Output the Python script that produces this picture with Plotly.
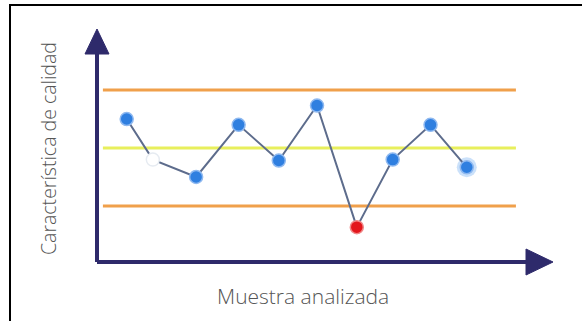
import plotly.graph_objects as go

# ---- data ----
sample_pos = [1.0, 1.67, 2.78, 3.87, 4.9, 5.88, 6.9, 7.82, 8.79, 9.72]
quality = [11.5, 9.4, 8.5, 11.2, 9.35, 12.2, 5.9, 9.4, 11.2, 9.0]
limit_names = ["UCL", "CL", "LCL"]
limit_values = [13.0, 10.0, 7.0]
x_title = "Muestra analizada"
y_title = "Característica de calidad"

# ---- layout geometry (pixels) ----
W, H = 582, 321
L, R, T, B = 97, 29, 28, 59
PW, PH = W - L - R, H - T - B


def fx(px):
    return (px - L) / PW


def fy(py):
    return (H - B - py) / PH


navy = "#2e2a6b"
fig = go.Figure()

# marker styles
colors = []
lines_c = []
for i, v in enumerate(quality):
    if v < limit_values[2]:
        colors.append("#e3161c")
        lines_c.append("#f08a8a")
    elif i == 1:
        colors.append("#ffffff")
        lines_c.append("#e6ebf1")
    else:
        colors.append("#2f7fe0")
        lines_c.append("#8fb9f0")

# control limit lines
limit_colors = ["#f0a04b", "#e8ef5c", "#f0a04b"]
for name, val, c in zip(limit_names, limit_values, limit_colors):
    fig.add_trace(go.Scatter(x=[0.39, 10.98], y=[val, val], mode="lines",
                             line=dict(color=c, width=3), hoverinfo="skip",
                             showlegend=False, name=name))

# halo on last point
fig.add_trace(go.Scatter(x=sample_pos[-1:], y=quality[-1:], mode="markers",
                         marker=dict(size=20, color="rgba(160,200,245,0.55)",
                                     line=dict(width=0)),
                         showlegend=False, hoverinfo="skip"))

fig.add_trace(go.Scatter(x=sample_pos, y=quality, mode="lines+markers",
                         line=dict(color="#5d6c8c", width=2),
                         marker=dict(size=13, color=colors,
                                     line=dict(color=lines_c, width=1.5)),
                         showlegend=False))

shapes = []
# axes lines
shapes.append(dict(type="line", xref="paper", yref="paper",
                   x0=fx(97), y0=fy(262), x1=fx(532), y1=fy(262),
                   line=dict(color=navy, width=4)))
shapes.append(dict(type="line", xref="paper", yref="paper",
                   x0=fx(97), y0=fy(262), x1=fx(97), y1=fy(48),
                   line=dict(color=navy, width=4)))
# arrow heads
shapes.append(dict(type="path", xref="paper", yref="paper",
                   path=f"M {fx(553)} {fy(262)} L {fx(526)} {fy(249)} L {fx(526)} {fy(275)} Z",
                   fillcolor=navy, line=dict(color=navy, width=1)))
shapes.append(dict(type="path", xref="paper", yref="paper",
                   path=f"M {fx(97)} {fy(29)} L {fx(85)} {fy(54)} L {fx(109)} {fy(54)} Z",
                   fillcolor=navy, line=dict(color=navy, width=1)))
# image border (top and left)
shapes.append(dict(type="line", xref="paper", yref="paper",
                   x0=fx(9), y0=fy(5), x1=fx(582), y1=fy(5),
                   line=dict(color="#000000", width=2)))
shapes.append(dict(type="line", xref="paper", yref="paper",
                   x0=fx(10), y0=fy(5), x1=fx(10), y1=fy(321),
                   line=dict(color="#000000", width=2)))

annotations = [
    dict(text=y_title, xref="paper", yref="paper", x=fx(48), y=fy(149),
         xanchor="center", yanchor="middle",
         textangle=-90, showarrow=False,
         font=dict(family="Open Sans", size=19.5, weight=300, color="#555555")),
    dict(text=x_title, xref="paper", yref="paper", x=fx(303), y=fy(296),
         xanchor="center", yanchor="middle", showarrow=False,
         font=dict(family="Open Sans", size=21, weight=300, color="#555555")),
]

fig.update_layout(
    width=W, height=H, margin=dict(l=L, r=R, t=T, b=B),
    paper_bgcolor="white", plot_bgcolor="white",
    xaxis=dict(range=[(L - 87.7) / 39, (W - R - 87.7) / 39], visible=False,
               fixedrange=True),
    yaxis=dict(range=[10 - (H - B - 148) / 19.3, 10 + (148 - T) / 19.3],
               visible=False, fixedrange=True),
    shapes=shapes, annotations=annotations, showlegend=False,
)

fig.write_html("out.html")
